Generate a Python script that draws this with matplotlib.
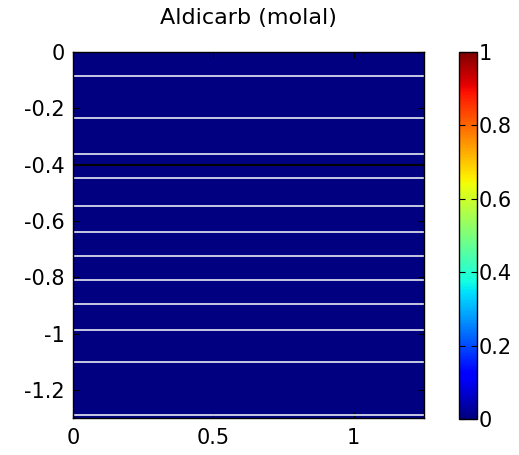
import numpy as np
import matplotlib
matplotlib.use('Agg')
import matplotlib.pyplot as plt

# layer boundaries (depth) and concentration in each layer
layer_edges = [0, -0.084, -0.234, -0.362, -0.446, -0.546, -0.640, -0.723,
               -0.809, -0.895, -0.987, -1.102, -1.291, -1.3]
conc = [0, 0, 0, 0, 0, 0, 0, 0, 0, 0, 0, 0, 0]
x_edges = [0, 1.25]
water_table = -0.4

fig = plt.figure(figsize=(5.19, 4.55), dpi=100)
ax = fig.add_axes([0.1407, 0.0813, 0.676, 0.804])
cax = fig.add_axes([0.8844, 0.0791, 0.0347, 0.8066])

C = np.array(conc).reshape(-1, 1)
mesh = ax.pcolormesh(x_edges, layer_edges, C, cmap='jet', vmin=0, vmax=1, shading='flat')
ax.hlines(layer_edges[1:-1], 0, 1.25, colors='#e8e8f4', linewidth=1.2)
ax.axhline(water_table, color='black', linewidth=1.5)

ax.set_xlim(0, 1.25)
ax.set_ylim(-1.3, 0)
ax.set_xticks([0, 0.5, 1])
ax.set_xticklabels(['0', '0.5', '1'])
ax.set_yticks([0, -0.2, -0.4, -0.6, -0.8, -1, -1.2])
ax.set_yticklabels(['0', '-0.2', '-0.4', '-0.6', '-0.8', '-1', '-1.2'])
ax.tick_params(direction='in', length=4, labelsize=15, top=True, right=True, colors='black')
ax.tick_params(axis='x', pad=7)
ax.tick_params(axis='y', pad=6)
ax.set_title('Aldicarb (molal)', fontsize=16, pad=20)
for s in ax.spines.values():
    s.set_linewidth(1.0)

cb = fig.colorbar(mesh, cax=cax)
cb.set_ticks([0, 0.2, 0.4, 0.6, 0.8, 1])
cb.set_ticklabels(['0', '0.2', '0.4', '0.6', '0.8', '1'])
cax.tick_params(direction='in', length=4, labelsize=15, left=True, right=True, pad=1)
cb.outline.set_linewidth(1.0)

fig.savefig('out.png', dpi=100)
